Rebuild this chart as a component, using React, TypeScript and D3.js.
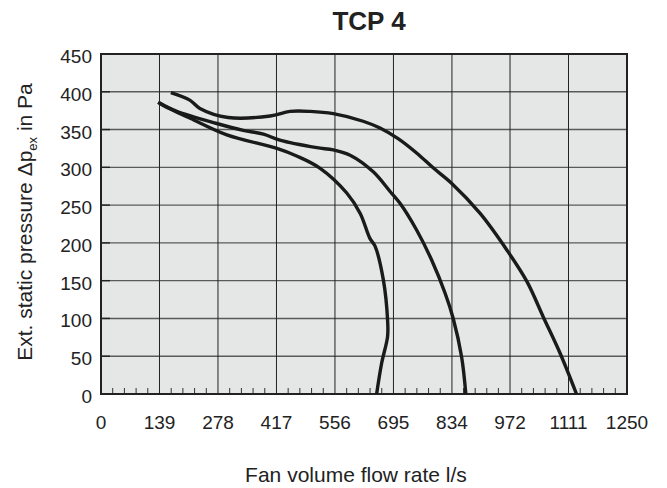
import React from "react";
import * as d3 from "d3";

const xTickLabels = [0, 139, 278, 417, 556, 695, 834, 972, 1111, 1250];
const yTickLabels = [0, 50, 100, 150, 200, 250, 300, 350, 400, 450];

// [flow l/s, pressure Pa]
const curveHigh: [number, number][] = [
  [166, 399], [211, 389], [235, 378], [302, 366], [402, 368], [449, 374], [497, 374],
  [552, 371], [623, 361], [663, 352], [706, 338], [750, 319], [790, 299], [833, 279],
  [901, 239], [964, 191], [1012, 149], [1051, 102], [1091, 54], [1130, 0],
];
const curveMid: [number, number][] = [
  [136, 386], [180, 374], [275, 358], [338, 349], [386, 344], [425, 336], [513, 326],
  [552, 323], [592, 316], [647, 294], [687, 268], [711, 252], [750, 217], [786, 177],
  [818, 133], [837, 100], [857, 49], [867, 0],
];
const curveLow: [number, number][] = [
  [136, 386], [148, 382], [212, 365], [299, 343], [418, 325], [465, 315], [520, 299],
  [584, 266], [616, 239], [639, 206], [651, 196], [671, 151], [681, 98], [681, 76],
  [667, 41], [655, 0],
];
const curves = [curveHigh, curveMid, curveLow];

const W = 667;
const H = 488;
const L = 101, R = 627, T = 54, B = 394;

export default function App() {
  const x = d3.scaleLinear().domain([0, 1250]).range([L, R]);
  const y = d3.scaleLinear().domain([0, 450]).range([B, T]);
  const line = d3
    .line<[number, number]>()
    .x((d) => x(d[0]))
    .y((d) => y(d[1]))
    .curve(d3.curveCatmullRom.alpha(0.5));

  const minor: number[] = [];
  for (let i = 0; i < xTickLabels.length - 1; i++) {
    const a = xTickLabels[i], b = xTickLabels[i + 1];
    for (let k = 1; k < 5; k++) minor.push(a + ((b - a) * k) / 5);
  }
  const font = "'Liberation Sans', Arial, Helvetica, sans-serif";

  return (
    <div style={{ position: "absolute", left: 0, top: 0 }}>
      <svg width={W} height={H} style={{ display: "block" }} fontFamily={font}>
        <rect x={0} y={0} width={W} height={H} fill="#fff" />
        <rect x={L} y={T} width={R - L} height={B - T} fill="#e5e6e6" />
        {yTickLabels.map((v) => (
          <g key={"h" + v}>
            <line x1={L} x2={R} y1={y(v)} y2={y(v)} stroke="#5a5a5a" strokeWidth={1.4} />
            <line x1={L} x2={L + 9} y1={y(v)} y2={y(v)} stroke="#222" strokeWidth={1.4} />
          </g>
        ))}
        {xTickLabels.map((v) => (
          <line key={"v" + v} x1={x(v)} x2={x(v)} y1={T} y2={B} stroke="#222" strokeWidth={1} />
        ))}
        {minor.map((v, i) => (
          <line key={"m" + i} x1={x(v)} x2={x(v)} y1={B} y2={B - 6} stroke="#333" strokeWidth={1} />
        ))}
        <rect x={L} y={T} width={R - L} height={B - T} fill="none" stroke="#222" strokeWidth={2} />
        {curves.map((c, i) => (
          <path
            key={"c" + i}
            d={line(c) || ""}
            fill="none"
            stroke="#1a1a1a"
            strokeWidth={3.4}
            strokeLinejoin="round"
            strokeLinecap="butt"
          />
        ))}
        {yTickLabels.map((v) => (
          <text key={"yl" + v} x={L - 9} y={y(v) + 4} fontSize={19} fill="#222" textAnchor="end" dominantBaseline="middle">
            {v}
          </text>
        ))}
        {xTickLabels.map((v) => (
          <text key={"xl" + v} x={x(v)} y={429} fontSize={19} fill="#222" textAnchor="middle">
            {v}
          </text>
        ))}
        <text x={369} y={30} fontSize={26} fontWeight="bold" fill="#222" textAnchor="middle">
          TCP 4
        </text>
        <text x={356} y={482} fontSize={21} fill="#222" textAnchor="middle">
          Fan volume flow rate l/s
        </text>
        <text
          transform={`translate(32,222) rotate(-90)`}
          fontSize={21}
          fill="#222"
          textAnchor="middle"
        >
          Ext. static pressure Δp
          <tspan fontSize={13} dy={5}>ex</tspan>
          <tspan dy={-5}> in Pa</tspan>
        </text>
      </svg>
    </div>
  );
}
